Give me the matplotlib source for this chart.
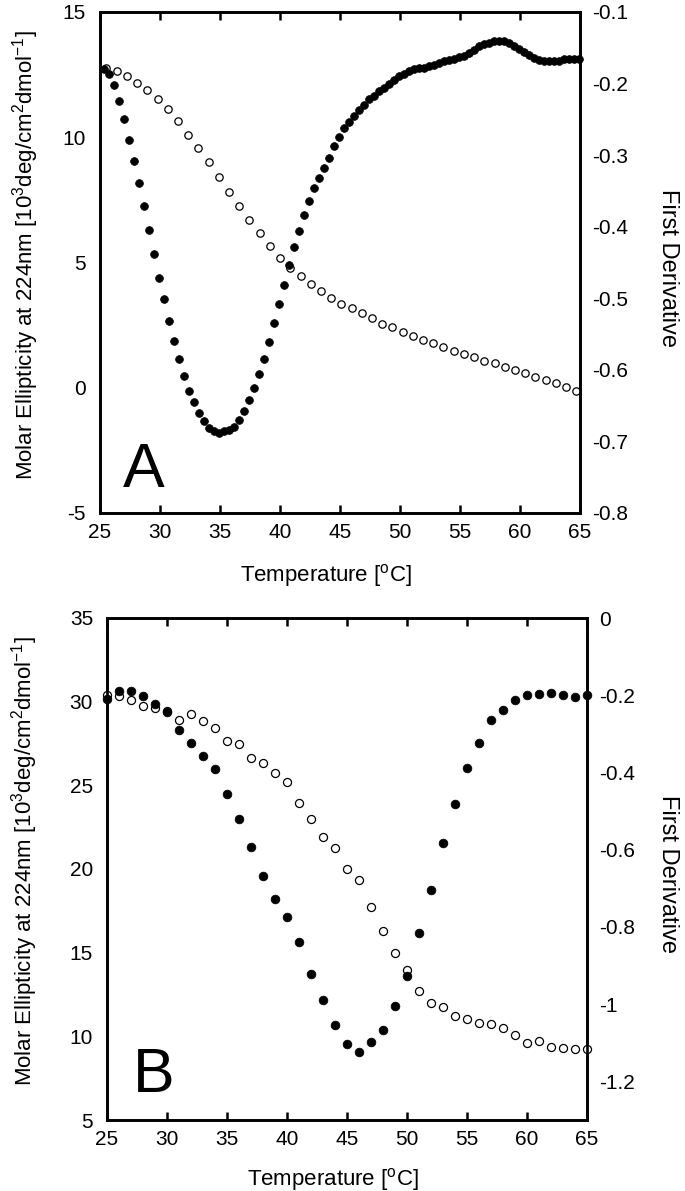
import numpy as np
import matplotlib
matplotlib.use('Agg')
import matplotlib.pyplot as plt
from matplotlib.ticker import FuncFormatter

plt.rcParams['font.family'] = ['Liberation Sans', 'DejaVu Sans']
plt.rcParams['mathtext.fontset'] = 'custom'
plt.rcParams['mathtext.rm'] = 'Liberation Sans'
plt.rcParams['mathtext.it'] = 'Liberation Sans:italic'
plt.rcParams['axes.unicode_minus'] = False

# ---- panel A ----
# first derivative (filled), right axis
temp_a_deriv = [25.33, 25.75, 26.17, 26.58, 27.00, 27.42, 27.83, 28.25, 28.67, 29.08,
                29.50, 29.92, 30.33, 30.75, 31.17, 31.58, 32.00, 32.42, 32.83, 33.25,
                33.67, 34.08, 34.50, 34.92, 35.33, 35.75, 36.17, 36.58, 37.00, 37.42,
                37.83, 38.25, 38.67, 39.08, 39.50, 39.92, 40.33, 40.75, 41.17, 41.58,
                42.00, 42.42, 42.83, 43.25, 43.67, 44.08, 44.50, 44.92, 45.33, 45.75,
                46.17, 46.58, 47.00, 47.42, 47.83, 48.25, 48.67, 49.08, 49.50, 49.92,
                50.33, 50.75, 51.17, 51.58, 52.00, 52.42, 52.83, 53.25, 53.67, 54.08,
                54.50, 54.92, 55.33, 55.75, 56.17, 56.58, 57.00, 57.42, 57.83, 58.25,
                58.67, 59.08, 59.50, 59.92, 60.33, 60.75, 61.17, 61.58, 62.00, 62.42,
                62.83, 63.25, 63.67, 64.08, 64.50, 64.92]
deriv_a = [-0.179, -0.186, -0.202, -0.224, -0.250, -0.279, -0.308, -0.339, -0.371, -0.405,
           -0.438, -0.471, -0.501, -0.532, -0.560, -0.585, -0.609, -0.630, -0.645, -0.660,
           -0.672, -0.681, -0.686, -0.688, -0.686, -0.684, -0.680, -0.670, -0.657, -0.642,
           -0.625, -0.606, -0.585, -0.561, -0.534, -0.508, -0.481, -0.454, -0.429, -0.406,
           -0.384, -0.364, -0.346, -0.332, -0.318, -0.304, -0.287, -0.274, -0.262, -0.253,
           -0.245, -0.237, -0.230, -0.222, -0.217, -0.210, -0.206, -0.201, -0.195, -0.189,
           -0.186, -0.182, -0.180, -0.178, -0.178, -0.176, -0.174, -0.171, -0.169, -0.167,
           -0.165, -0.163, -0.161, -0.157, -0.153, -0.148, -0.145, -0.143, -0.141, -0.141,
           -0.141, -0.143, -0.147, -0.151, -0.156, -0.160, -0.164, -0.167, -0.169, -0.169,
           -0.169, -0.168, -0.166, -0.165, -0.165, -0.165]

# molar ellipticity (open), left axis
temp_a_ellip = [25.54, 26.39, 27.24, 28.09, 28.94, 29.80, 30.65, 31.50, 32.35, 33.20,
                34.05, 34.90, 35.75, 36.60, 37.45, 38.31, 39.16, 40.01, 40.86, 41.71,
                42.56, 43.41, 44.26, 45.11, 45.96, 46.82, 47.67, 48.52, 49.37, 50.22,
                51.07, 51.92, 52.77, 53.62, 54.47, 55.33, 56.18, 57.03, 57.88, 58.73,
                59.58, 60.43, 61.28, 62.13, 62.98, 63.84, 64.69]
ellip_a = [12.76, 12.64, 12.43, 12.18, 11.87, 11.54, 11.14, 10.64, 10.10, 9.56,
           9.01, 8.41, 7.83, 7.26, 6.70, 6.16, 5.67, 5.18, 4.77, 4.47,
           4.14, 3.87, 3.60, 3.34, 3.17, 2.97, 2.77, 2.55, 2.41, 2.21,
           2.07, 1.89, 1.77, 1.63, 1.48, 1.35, 1.24, 1.08, 0.98, 0.82,
           0.71, 0.60, 0.44, 0.31, 0.18, 0.02, -0.13]

# ---- panel B ----
temp_b = [25, 26, 27, 28, 29, 30, 31, 32, 33, 34, 35, 36, 37, 38, 39, 40, 41, 42, 43, 44,
          45, 46, 47, 48, 49, 50, 51, 52, 53, 54, 55, 56, 57, 58, 59, 60, 61, 62, 63, 64, 65]
deriv_b = [-0.209, -0.190, -0.190, -0.201, -0.223, -0.244, -0.290, -0.325, -0.357, -0.391,
           -0.455, -0.520, -0.592, -0.669, -0.727, -0.774, -0.839, -0.921, -0.988, -1.055,
           -1.104, -1.125, -1.099, -1.067, -1.006, -0.926, -0.817, -0.705, -0.582, -0.481,
           -0.389, -0.323, -0.265, -0.237, -0.213, -0.199, -0.196, -0.194, -0.199, -0.204,
           -0.200]
ellip_b = [30.40, 30.36, 30.10, 29.74, 29.64, 29.44, 28.90, 29.26, 28.84, 28.41,
           27.67, 27.47, 26.62, 26.35, 25.72, 25.18, 23.93, 23.01, 21.89, 21.24,
           20.02, 19.32, 17.75, 16.29, 15.00, 13.96, 12.71, 12.01, 11.75, 11.23,
           11.02, 10.81, 10.74, 10.48, 10.08, 9.62, 9.72, 9.38, 9.28, 9.23,
           9.26]

xlabel = 'Temperature [$^{\\mathrm{o}}$C]'
ylabel_left = 'Molar Ellipticity at 224nm [10$^{3}$deg/cm$^{2}$dmol$^{-1}$]'
ylabel_right = 'First Derivative'

FS = 15
fmt = FuncFormatter(lambda v, p: '%g' % (round(v, 3) + 0.0))

fig = plt.figure(figsize=(6.85, 11.91), dpi=100)


def make_panel(rect, t_open, y_open, t_fill, y_fill, ylim_l, yticks_l, ylim_r, yticks_r,
               letter, letter_pos, ms_fill, ms_open, lab_x, rlab_x, xlab_y):
    ax = fig.add_axes(rect)
    ax2 = ax.twinx()

    ax.plot(t_open, y_open, 'o', ms=ms_open, mfc='white', mec='black', mew=0.9,
            linestyle='none', clip_on=False, zorder=3)
    ax2.plot(t_fill, y_fill, 'o', ms=ms_fill, mfc='black', mec='black', mew=0.5,
             linestyle='none', clip_on=False, zorder=3)

    ax.set_xlim(25, 65)
    ax.set_xticks(range(25, 66, 5))
    ax.set_ylim(*ylim_l)
    ax.set_yticks(yticks_l)
    ax2.set_ylim(*ylim_r)
    ax2.set_yticks(yticks_r)
    ax2.yaxis.set_major_formatter(fmt)

    for a in (ax, ax2):
        for s in a.spines.values():
            s.set_linewidth(1.9)
    ax.tick_params(axis='x', direction='in', top=True, length=6, width=1.8,
                   labelsize=FS, pad=7)
    ax.tick_params(axis='y', length=0, labelsize=FS, pad=10)
    ax2.tick_params(axis='y', length=0, labelsize=FS, pad=9)

    ax.set_xlabel(xlabel, fontsize=16, va='center')
    ax.xaxis.set_label_coords(0.47, xlab_y)
    ax.set_ylabel(ylabel_left, fontsize=16, va='center')
    ax.yaxis.set_label_coords(lab_x, 0.515)
    ax2.set_ylabel(ylabel_right, fontsize=17, rotation=-90, va='center')
    ax2.yaxis.set_label_coords(rlab_x, 0.49)

    ax.text(letter_pos[0], letter_pos[1], letter, transform=ax.transAxes,
            fontsize=45, ha='left', va='baseline')
    return ax, ax2


make_panel([100 / 685, 1 - 513 / 1191, 480 / 685, 501 / 1191],
           temp_a_ellip, ellip_a, temp_a_deriv, deriv_a,
           (-5, 15), [-5, 0, 5, 10, 15], (-0.8, -0.1), np.arange(-0.8, -0.05, 0.1),
           'A', (0.048, 0.052), 5.6, 5.3, -0.156, 1.183, -0.124)

make_panel([107 / 685, 1 - 1120 / 1191, 480 / 685, 502 / 1191],
           temp_b, ellip_b, temp_b, deriv_b,
           (5, 35), [5, 10, 15, 20, 25, 30, 35], (-1.3, 0), np.arange(-1.2, 0.05, 0.2),
           'B', (0.054, 0.056), 6.3, 5.8, -0.171, 1.168, -0.118)

fig.savefig('out.png', dpi=100)
